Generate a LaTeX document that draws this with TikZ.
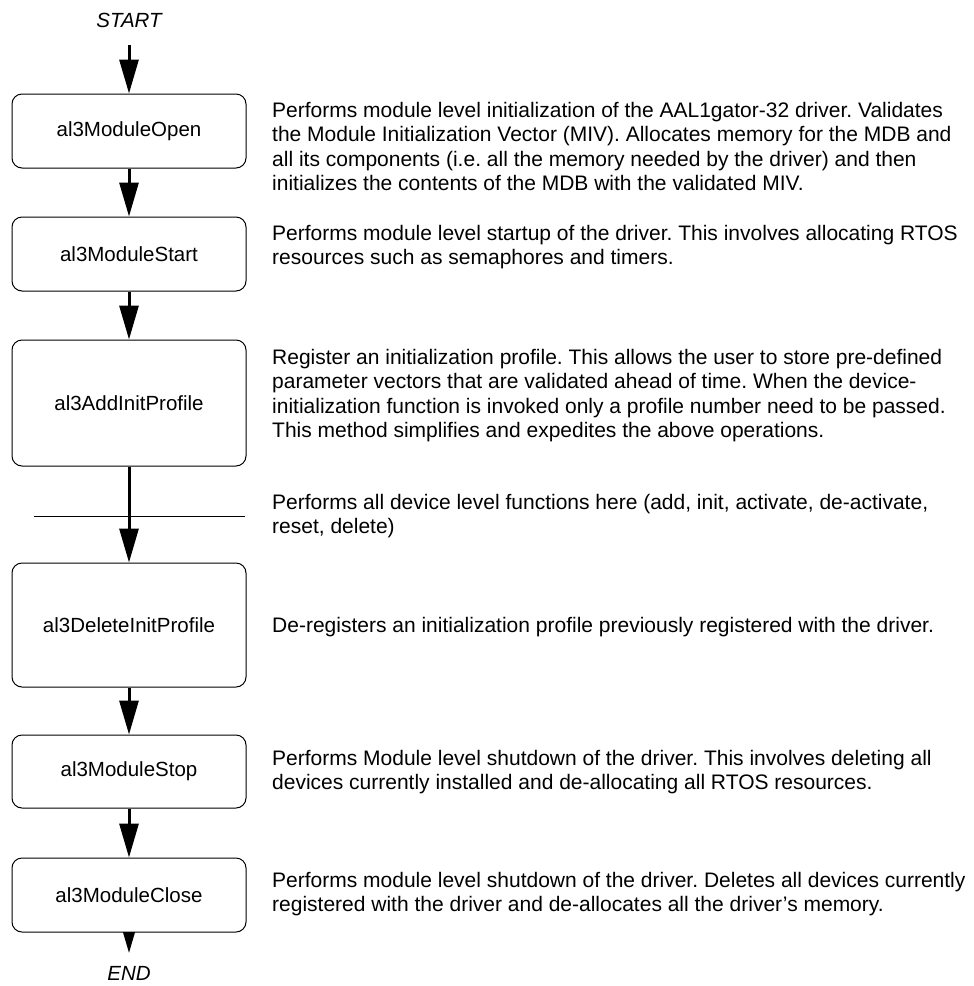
\documentclass[tikz,border=0pt]{standalone}
\usepackage{fontspec}
\setsansfont{Liberation Sans}
\tikzset{every picture/.style={/utils/exec={\sffamily}}}
\usetikzlibrary{arrows.meta}
\usetikzlibrary{positioning}
\frenchspacing

\tikzset{
  apibox/.style={draw, fill=white, rounded corners=10pt, minimum width=234pt,
    line width=1pt, inner sep=0pt, font=\fontsize{20.5}{24}\selectfont},
  flow/.style={line width=3pt, -{Triangle[length=34pt,width=19pt]}},
  note/.style={anchor=north west, align=left, inner sep=0pt,
    font=\fontsize{21}{24.3}\selectfont},
  endlabel/.style={inner sep=0pt, font=\itshape\fontsize{20.5}{24}\selectfont}
}

\begin{document}
\begin{tikzpicture}[x=1pt,y=-1pt]
  \useasboundingbox (0,0) rectangle (974,986);

  \node [endlabel] (start) at (129,20) {START};
  \coordinate (startarr) at (129,45);

  % the calls, top to bottom
  \node [apibox, minimum height=74pt] (open) at (129,131) {al3ModuleOpen};
  \node [apibox, minimum height=74pt] (modstart) at (129,254) {al3ModuleStart};
  \node [apibox, minimum height=126pt] (addprof) at (129,403) {al3AddInitProfile};
  \node [apibox, minimum height=124pt] (delprof) at (129,625) {al3DeleteInitProfile};
  \node [apibox, minimum height=73pt] (stop) at (129,771.5) {al3ModuleStop};
  \node [apibox, minimum height=74pt] (close) at (129,895) {al3ModuleClose};

  \coordinate (endtip) at (129,953);
  \node [endlabel] (end) at (129,973) {END};

  % device level section
  \coordinate (sepL) at (34,516);
  \coordinate (sepR) at (245,516);
  \draw [line width=1pt] (sepL) -- (sepR);

  \draw [flow] (startarr) -- (open);
  \draw [flow] (open) -- (modstart);
  \draw [flow] (modstart) -- (addprof);
  \draw [flow] (addprof) -- (delprof);
  \draw [flow] (delprof) -- (stop);
  \draw [flow] (stop) -- (close);
  \begin{scope}
    \clip (0,932.5) rectangle (260,986);
    \draw [flow] (close) -- (endtip);
  \end{scope}

  % descriptions
  \node [note] (noteopen) at (272,102) {Performs module level initialization of the AAL1gator-32 driver. Validates\\
    the Module Initialization Vector (MIV). Allocates memory for the MDB and\\
    all its components (i.e. all the memory needed by the driver) and then\\
    initializes the contents of the MDB with the validated MIV.};
  \node [note] (notestart) at (272,225) {Performs module level startup of the driver. This involves allocating RTOS\\
    resources such as semaphores and timers.};
  \node [note] (noteadd) at (272,349) {Register an initialization profile. This allows the user to store pre-defined\\
    parameter vectors that are validated ahead of time. When the device-\\
    initialization function is invoked only a profile number need to be passed.\\
    This method simplifies and expedites the above operations.};
  \node [note] (notedev) at (272,494) {Performs all device level functions here (add, init, activate, de-activate,\\
    reset, delete)};
  \node [note, anchor=west] (notedel) at (272,627) {De-registers an initialization profile previously registered with the driver.};
  \node [note] (notestop) at (272,750) {Performs Module level shutdown of the driver. This involves deleting all\\
    devices currently installed and de-allocating all RTOS resources.};
  \node [note] (noteclose) at (272,872) {Performs module level shutdown of the driver. Deletes all devices currently\\
    registered with the driver and de-allocates all the driver's memory.};
\end{tikzpicture}
\end{document}
